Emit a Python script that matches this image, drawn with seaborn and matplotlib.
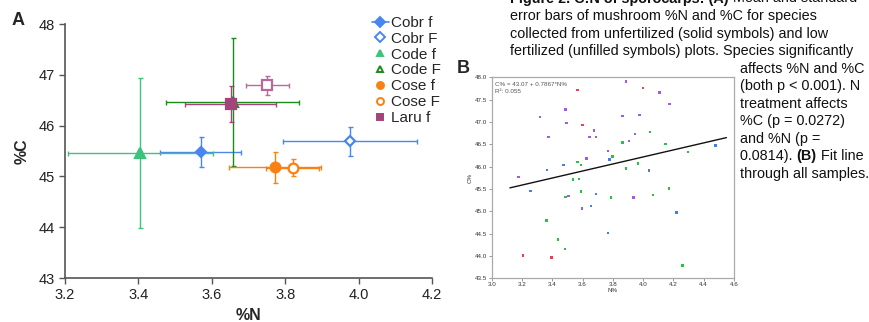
import numpy as np
import pandas as pd
import matplotlib
matplotlib.use('Agg')
import matplotlib.pyplot as plt
from matplotlib.lines import Line2D
import seaborn as sns

sns.set_style('white')
plt.rcParams['font.family'] = ['Liberation Sans', 'DejaVu Sans']

# ---- panel A: means and standard errors
species = ['Cobr f', 'Cobr F', 'Code f', 'Code F', 'Cose f', 'Cose F', 'Laru f', 'Laru F']
mean_n = [3.57, 3.976, 3.405, 3.657, 3.773, 3.821, 3.651, 3.751]
mean_c = [45.48, 45.69, 45.46, 46.47, 45.18, 45.17, 46.42, 46.79]
se_n = [0.11, 0.183, 0.198, 0.181, 0.125, 0.072, 0.124, 0.059]
se_c = [0.29, 0.29, 1.47, 1.26, 0.31, 0.165, 0.35, 0.185]
colors_a = ['#4a86f0', '#4a86f0', '#3cc47c', '#1a8c1a', '#f98012', '#f98012', '#a3447a', '#b8689a']
markers_a = ['D', 'D', '^', '^', 'o', 'o', 's', 's']
filled_a = [True, False, True, False, True, False, True, False]

# ---- panel B: all samples
b_purple_n = [3.887, 4.107, 4.175, 3.486, 3.317, 3.865, 3.977, 3.495, 3.676, 3.376,
              3.647, 3.687, 3.946, 3.907, 3.768, 3.627, 3.176, 3.506, 3.596, 3.937]
b_purple_c = [47.91, 47.66, 47.40, 47.28, 47.11, 47.14, 47.16, 46.98, 46.81, 46.67,
              46.66, 46.67, 46.73, 46.57, 46.35, 46.18, 45.77, 45.34, 45.06, 45.31]
b_red_n = [3.566, 4.0, 3.599, 3.205, 3.396]
b_red_c = [47.72, 47.76, 46.93, 44.01, 43.97]
b_blue_n = [4.477, 3.475, 3.365, 3.779, 4.037, 3.255, 3.687, 3.656, 4.219, 3.768]
b_blue_c = [46.47, 46.03, 45.93, 46.16, 45.91, 45.45, 45.39, 45.12, 44.97, 44.52]
b_green_n = [4.045, 3.865, 4.149, 4.296, 3.797, 3.566, 3.59, 3.968, 3.887, 3.535,
             3.577, 3.588, 3.486, 3.786, 4.067, 4.169, 3.363, 3.436, 3.484, 4.259]
b_green_c = [46.78, 46.54, 46.51, 46.33, 46.23, 46.10, 46.04, 46.07, 45.96, 45.71,
             45.72, 45.44, 45.32, 45.31, 45.37, 45.51, 44.79, 44.37, 44.15, 43.79]
fit_intercept = 43.07
fit_slope = 0.7867
fit_r2 = 0.055
fit_x_range = [3.12, 4.55]

fig = plt.figure(figsize=(8.69, 3.22), dpi=100)

# ================= panel A
ax = fig.add_axes([65 / 869, 1 - 278 / 322, 367 / 869, 254 / 322])
for i, sp in enumerate(species):
    ax.errorbar(mean_n[i], mean_c[i], xerr=se_n[i], yerr=se_c[i], fmt='none',
                ecolor=colors_a[i], elinewidth=1.0, capsize=1.8, capthick=1.0, zorder=2)
for i, sp in enumerate(species):
    face = colors_a[i] if filled_a[i] else 'white'
    ms = 5.5 if markers_a[i] == 'D' else 7
    ax.plot(mean_n[i], mean_c[i], marker=markers_a[i], ms=ms, mfc=face,
            mec=colors_a[i], mew=1.6, linestyle='none', zorder=3)

ax.set_xlim(3.2, 4.2)
ax.set_ylim(43, 48)
ax.set_xticks(np.arange(3.2, 4.21, 0.2))
ax.set_xticklabels([f'{v:.1f}' for v in np.arange(3.2, 4.21, 0.2)])
ax.set_yticks(range(43, 49))
for s in ['top', 'right']:
    ax.spines[s].set_visible(False)
for s in ['left', 'bottom']:
    ax.spines[s].set_color('#555555')
    ax.spines[s].set_linewidth(1.2)
ax.tick_params(direction='out', length=4, width=1, color='#555555',
               labelsize=10.5, labelcolor='#222222', left=True, bottom=True)
ax.set_xlabel('%N', fontsize=11.5, fontweight='bold', labelpad=4)
ax.set_ylabel('%C', fontsize=11.5, fontweight='bold', labelpad=6)

handles = []
for i in range(7):
    face = colors_a[i] if filled_a[i] else 'white'
    ls = '-' if i == 0 else 'none'
    handles.append(Line2D([0], [0], marker=markers_a[i], ms=5, mfc=face, mec=colors_a[i],
                          mew=1.4, color=colors_a[i], linestyle=ls, lw=1.2))
fig.legend(handles, species[:7], loc='upper left', bbox_to_anchor=(372 / 869, 1 - 16 / 322),
           frameon=False, fontsize=11, handlelength=1.1, handletextpad=0.15,
           labelspacing=0.12, borderpad=0, borderaxespad=0)

fig.text(12 / 869, 1 - 25 / 322, 'A', fontsize=13, fontweight='bold')

# ================= panel B
bx = fig.add_axes([491.7 / 869, 1 - 278.3 / 322, 242.3 / 869, 201 / 322])
df_b = pd.DataFrame({
    'N': b_purple_n + b_red_n + b_blue_n + b_green_n,
    'C': b_purple_c + b_red_c + b_blue_c + b_green_c,
    'grp': ['p'] * len(b_purple_n) + ['r'] * len(b_red_n) + ['b'] * len(b_blue_n) + ['g'] * len(b_green_n),
})
pal = {'p': '#a05ae8', 'r': '#e8404e', 'b': '#3f7fe6', 'g': '#28c048'}
sns.scatterplot(data=df_b, x='N', y='C', hue='grp', palette=pal, marker='s', s=3,
                linewidth=0, legend=False, ax=bx)
fx = np.array(fit_x_range)
bx.plot(fx, fit_intercept + fit_slope * fx, color='#111111', lw=1.0)
bx.set_xlim(3.0, 4.6)
bx.set_ylim(43.5, 48.0)
bx.set_xticks(np.arange(3.0, 4.61, 0.2))
bx.set_xticklabels([f'{v:.1f}' for v in np.arange(3.0, 4.61, 0.2)])
bx.set_yticks(np.arange(43.5, 48.01, 0.5))
bx.set_yticklabels([f'{v:.1f}' for v in np.arange(43.5, 48.01, 0.5)])
for s in bx.spines.values():
    s.set_color('#aaaaaa')
    s.set_linewidth(0.9)
bx.tick_params(direction='out', length=2, width=0.6, color='#888888', labelsize=4.5,
               labelcolor='#333333', pad=1, left=True, bottom=True)
bx.set_xlabel('N%', fontsize=4.5, labelpad=0.5, color='#333333')
bx.set_ylabel('C%', fontsize=4.5, labelpad=2, color='#333333')
bx.text(0.012, 0.975, f'C% = {fit_intercept} + {fit_slope}*N%\nR\u00b2: {fit_r2}',
        transform=bx.transAxes, fontsize=4.5, color='#555555', va='top', linespacing=1.3)

fig.text(457 / 869, 1 - 73 / 322, 'B', fontsize=13, fontweight='bold')

# ================= caption
fs = 10.35
base = [2.5 + 17.55 * k for k in range(11)]
renderer = fig.canvas.get_renderer()


def put(x_px, y_px, parts):
    x = x_px
    for txt, bold in parts:
        t = fig.text(x / 869, 1 - y_px / 322, txt, fontsize=fs,
                     fontweight='bold' if bold else 'normal', va='baseline', color='#111111')
        x += t.get_window_extent(renderer=renderer).width


put(510, base[0], [('Figure 2. C:N of sporocarps: (A)', True), (' Mean and standard', False)])
put(510, base[1], [('error bars of mushroom %N and %C for species', False)])
put(510, base[2], [('collected from unfertilized (solid symbols) and low', False)])
put(510, base[3], [('fertilized (unfilled symbols) plots. Species significantly', False)])
put(740, base[4], [('affects %N and %C', False)])
put(740, base[5], [('(both p < 0.001). N', False)])
put(740, base[6], [('treatment affects', False)])
put(740, base[7], [('%C (p = 0.0272)', False)])
put(740, base[8], [('and %N (p =', False)])
put(740, base[9], [('0.0814). ', False), ('(B)', True), (' Fit line', False)])
put(740, base[10], [('through all samples.', False)])

fig.savefig('out.png', dpi=100)
